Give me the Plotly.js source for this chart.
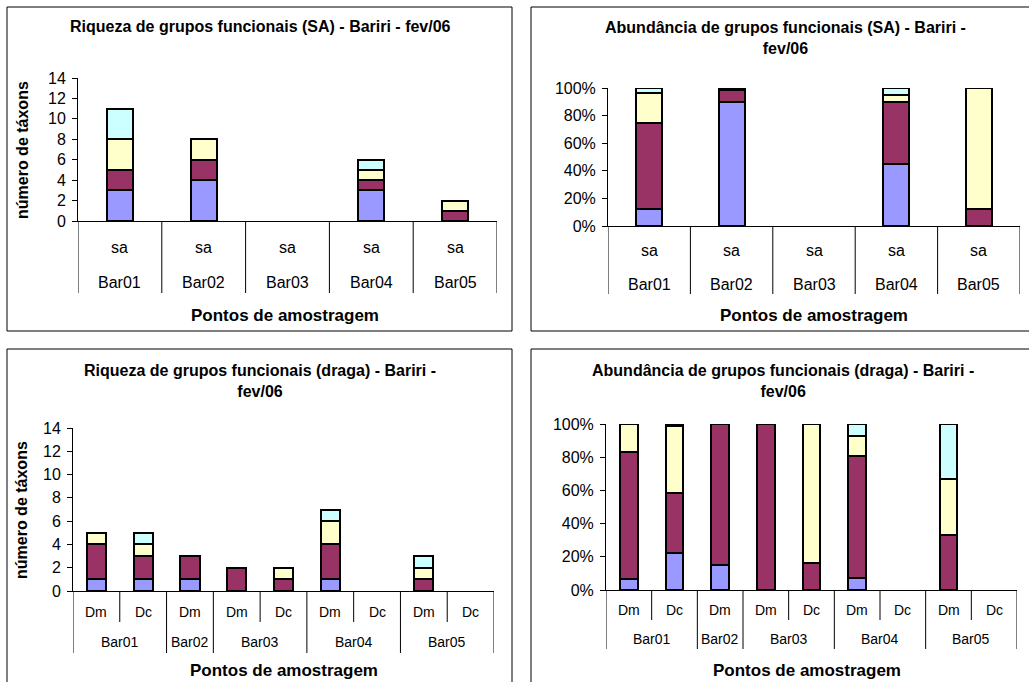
<!DOCTYPE html>
<html>
<head>
<meta charset="utf-8">
<script src="https://cdn.plot.ly/plotly-3.0.1.min.js"></script>
<style>html,body{margin:0;padding:0;background:#fff;}#chart{width:1029px;height:682px;}</style>
</head>
<body>
<div id="chart"></div>
<script>
// ---------------- DATA ----------------
const seriesNames = ['Grupo 1', 'Grupo 2', 'Grupo 3', 'Grupo 4'];
const seriesColors = ['#9999FF', '#993366', '#FFFFCC', '#CCFFFF'];

// SA (top charts)
const saGroups = ['Bar01', 'Bar02', 'Bar03', 'Bar04', 'Bar05'];
const saInner = ['sa', 'sa', 'sa', 'sa', 'sa'];
const riqSA_g1 = [3, 4, 0, 3, 0];
const riqSA_g2 = [2, 2, 0, 1, 1];
const riqSA_g3 = [3, 2, 0, 1, 1];
const riqSA_g4 = [3, 0, 0, 1, 0];
const abSA_g1 = [12.5, 90, 0, 45, 0];
const abSA_g2 = [62, 8.5, 0, 45, 12];
const abSA_g3 = [22, 1.5, 0, 5, 88];
const abSA_g4 = [3.5, 0, 0, 5, 0];

// draga (bottom charts)
const drGroups = ['Bar01', 'Bar01', 'Bar02', 'Bar03', 'Bar03', 'Bar04', 'Bar04', 'Bar05', 'Bar05'];
const drInner = ['Dm', 'Dc', 'Dm', 'Dm', 'Dc', 'Dm', 'Dc', 'Dm', 'Dc'];
const riqDr_g1 = [1, 1, 1, 0, 0, 1, 0, 0, 0];
const riqDr_g2 = [3, 2, 2, 2, 1, 3, 0, 1, 0];
const riqDr_g3 = [1, 1, 0, 0, 1, 2, 0, 1, 0];
const riqDr_g4 = [0, 1, 0, 0, 0, 1, 0, 1, 0];
const abDr_g1 = [6.5, 22, 15, 0, 0, 7, 0, 0, 0];
const abDr_g2 = [76.5, 36.5, 85, 100, 16, 73.5, 0, 33.3, 0];
const abDr_g3 = [17, 40.5, 0, 0, 84, 12.5, 0, 33.3, 0];
const abDr_g4 = [0, 1, 0, 0, 0, 7, 0, 33.4, 0];

const titles = [
  'Riqueza de grupos funcionais (SA) - Bariri - fev/06',
  'Abundância de grupos funcionais (SA) - Bariri -<br>fev/06',
  'Riqueza de grupos funcionais (draga) - Bariri -<br>fev/06',
  'Abundância de grupos funcionais (draga) - Bariri -<br>fev/06'
];
const xTitle = 'Pontos de amostragem';
const yTitleRiq = 'número de táxons';

// ---------------- LAYOUT HELPERS ----------------
const W = 1029, H = 682;
const FONT = 'Liberation Sans, Arial, sans-serif';
const px = x => x / W;
const py = y => 1 - y / H;

const panels = [
  {ax: '', groups: saGroups, inner: saInner, data: [riqSA_g1, riqSA_g2, riqSA_g3, riqSA_g4], pct: false,
   xd: [78, 497], yd: [221, 78], bw: 0.31, innerY: 247, outerY: 282, shortBot: 293, longBot: 293,
   box: [7, 7, 512, 331], titleX: 260, titleY: 27, xtX: 285, xtY: 315, ytX: 22, ytY: 150, innerSize: 16, outerSize: 16},
  {ax: '2', groups: saGroups, inner: saInner, data: [abSA_g1, abSA_g2, abSA_g3, abSA_g4], pct: true,
   xd: [608, 1020], yd: [226, 88], bw: 0.315, innerY: 250, outerY: 284, shortBot: 294, longBot: 294,
   box: [531, 7, 1040, 331], titleX: 785, titleY: 38, xtX: 814, xtY: 315, innerSize: 16, outerSize: 16},
  {ax: '3', groups: drGroups, inner: drInner, data: [riqDr_g1, riqDr_g2, riqDr_g3, riqDr_g4], pct: false,
   xd: [73, 494], yd: [591, 428], bw: 0.41, innerY: 612, outerY: 642, shortBot: 622, longBot: 653,
   box: [7, 349, 512, 700], titleX: 260, titleY: 381, xtX: 284, xtY: 670, ytX: 21, ytY: 510, innerSize: 14, outerSize: 14},
  {ax: '4', groups: drGroups, inner: drInner, data: [abDr_g1, abDr_g2, abDr_g3, abDr_g4], pct: true,
   xd: [606, 1017], yd: [590, 424], bw: 0.39, innerY: 610, outerY: 639, shortBot: 620, longBot: 649,
   box: [531, 349, 1040, 700], titleX: 783, titleY: 381, xtX: 807, xtY: 670, innerSize: 14, outerSize: 14}
];

const traces = [];
const shapes = [];
const annotations = [];
const layout = {
  width: W, height: H,
  margin: {l: 0, r: 0, t: 0, b: 0},
  paper_bgcolor: '#ffffff', plot_bgcolor: '#ffffff',
  barmode: 'stack',
  showlegend: false,
  font: {family: FONT, color: '#000000', size: 16}
};

panels.forEach(p => {
  const n = p.groups.length;
  const keys = p.groups.map((g, i) => g + ' ' + p.inner[i]);
  const xa = 'x' + p.ax, ya = 'y' + p.ax;
  p.data.forEach((vals, s) => {
    traces.push({
      type: 'bar', name: seriesNames[s],
      x: keys, y: vals.map(v => v === 0 ? null : v),
      xaxis: xa, yaxis: ya, width: p.bw,
      marker: {color: seriesColors[s], line: {color: '#000000', width: 2}},
      hoverinfo: 'x+y+name'
    });
  });
  layout['xaxis' + p.ax] = {
    domain: [px(p.xd[0]), px(p.xd[1])], anchor: ya,
    type: 'category', categoryorder: 'array', categoryarray: keys,
    range: [-0.5, n - 0.5], showticklabels: false, ticks: '',
    showline: true, linecolor: '#000000', linewidth: 1, showgrid: false, zeroline: false, fixedrange: true
  };
  layout['yaxis' + p.ax] = {
    domain: [py(p.yd[0]), py(p.yd[1])], anchor: xa,
    range: p.pct ? [0, 100] : [0, 14], dtick: p.pct ? 20 : 2, tick0: 0,
    ticksuffix: p.pct ? '%' : '',
    showline: true, linecolor: '#000000', linewidth: 1,
    ticks: 'outside', ticklen: 5, tickcolor: '#000000', tickwidth: 1,
    ticklabelstandoff: 3,
    tickfont: {size: 16, family: FONT, color: '#000000'},
    showgrid: false, zeroline: false, fixedrange: true
  };
  // panel border
  shapes.push({type: 'rect', xref: 'paper', yref: 'paper',
    x0: px(p.box[0]), x1: px(p.box[2]), y0: py(p.box[3]), y1: py(p.box[1]),
    line: {color: '#000000', width: 1}, fillcolor: 'rgba(0,0,0,0)', layer: 'below'});
  // category dividers
  for (let b = 0; b <= n; b++) {
    const isLong = (b === 0 || b === n || p.groups[b - 1] !== p.groups[b]);
    shapes.push({type: 'line', xref: xa, yref: 'paper',
      x0: b - 0.5, x1: b - 0.5, y0: py(p.yd[0]), y1: py(isLong ? p.longBot : p.shortBot),
      line: {color: '#000000', width: 1}});
  }
  // inner labels
  keys.forEach((k, i) => {
    annotations.push({xref: xa, yref: 'paper', x: i, y: py(p.innerY), text: p.inner[i],
      showarrow: false, xanchor: 'center', yanchor: 'middle', font: {size: p.innerSize}});
  });
  // outer group labels
  const seen = [];
  p.groups.forEach((g, i) => {
    if (seen.indexOf(g) >= 0) return;
    seen.push(g);
    const first = p.groups.indexOf(g), last = p.groups.lastIndexOf(g);
    annotations.push({xref: xa, yref: 'paper', x: (first + last) / 2, y: py(p.outerY), text: g,
      showarrow: false, xanchor: 'center', yanchor: 'middle', font: {size: p.outerSize}});
  });
  // chart title
  annotations.push({xref: 'paper', yref: 'paper', x: px(p.titleX), y: py(p.titleY),
    text: '<b>' + titles[panels.indexOf(p)] + '</b>', showarrow: false,
    xanchor: 'center', yanchor: 'middle', font: {size: 16}});
  // x axis title
  annotations.push({xref: 'paper', yref: 'paper', x: px(p.xtX), y: py(p.xtY),
    text: '<b>' + xTitle + '</b>', showarrow: false, xanchor: 'center', yanchor: 'middle', font: {size: 17}});
  // y axis title (richness charts)
  if (p.ytX !== undefined) {
    annotations.push({xref: 'paper', yref: 'paper', x: px(p.ytX), y: py(p.ytY),
      text: '<b>' + yTitleRiq + '</b>', showarrow: false, textangle: -90,
      xanchor: 'center', yanchor: 'middle', font: {size: 16}});
  }
});

layout.shapes = shapes;
layout.annotations = annotations;

Plotly.newPlot('chart', traces, layout, {displayModeBar: false, staticPlot: true});
</script>
</body>
</html>
